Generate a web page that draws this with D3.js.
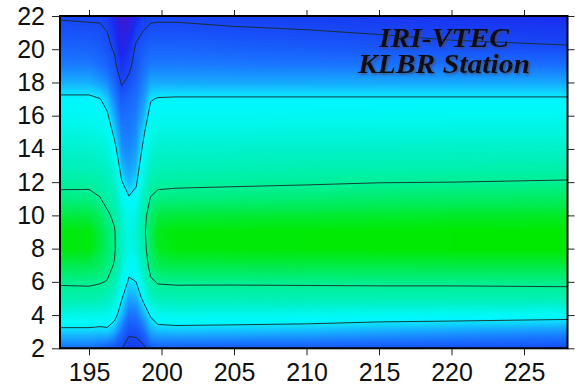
<!DOCTYPE html>
<html>
<head>
<meta charset="utf-8">
<script src="https://cdn.jsdelivr.net/npm/d3@7"></script>
<style>
  body { margin: 0; background: #fff; }
  svg { display: block; }
  .axis text { font-family: "Liberation Sans", Arial, sans-serif; font-size: 25px; fill: #111; }
  .axis line { stroke: #222; stroke-width: 1px; }
</style>
</head>
<body>
<svg id="chart" width="575" height="387"></svg>
<script>
// day-of-year columns (denser around the storm dip)
const days = [193, 195, 195.75, 196.25, 196.75, 197.25, 197.75, 198.25, 198.75, 199.25, 199.75, 201, 205, 210, 215, 220, 228];
// hour rows
const hours = [2, 3, 4, 5, 6, 7, 8, 9, 10, 11, 12, 13, 14, 15, 16, 17, 18, 19, 20, 21, 22];

// VTEC (TECU), one row per hour, one value per day column
const vtec = [
  [12.0, 12.0, 11.5, 11.0, 10.5, 10.1,  9.0,  9.1,  9.5, 11.0, 11.2, 11.2, 11.0, 10.9, 10.7, 10.5, 10.3], // 2
  [15.2, 15.2, 15.0, 15.2, 14.2, 12.0, 10.4, 10.5, 11.6, 14.0, 14.6, 14.7, 14.6, 14.4, 14.0, 13.7, 13.2], // 3
  [18.5, 18.5, 18.3, 18.3, 17.0, 14.5, 12.0, 12.2, 14.0, 16.3, 17.8, 18.2, 18.0, 17.8, 17.4, 17.3, 17.0], // 4
  [23.2, 23.3, 22.8, 22.0, 20.5, 16.2, 13.8, 14.2, 16.6, 21.0, 22.3, 22.6, 22.5, 22.5, 22.5, 22.5, 22.6], // 5
  [25.5, 25.6, 25.3, 24.8, 23.0, 18.0, 15.6, 16.0, 19.5, 24.2, 25.4, 25.6, 25.6, 25.7, 25.8, 25.8, 26.0], // 6
  [29.0, 29.0, 28.0, 26.5, 24.7, 20.0, 17.0, 17.8, 21.5, 26.8, 28.8, 29.3, 29.4, 29.4, 29.5, 29.5, 29.5], // 7
  [31.5, 31.5, 29.5, 27.5, 25.6, 21.0, 18.5, 19.5, 23.0, 28.0, 30.8, 31.6, 31.7, 31.8, 31.9, 32.0, 32.0], // 8
  [31.5, 31.5, 29.5, 27.5, 25.4, 21.0, 18.8, 20.0, 23.8, 28.2, 31.0, 31.6, 31.7, 31.8, 31.9, 32.0, 32.0], // 9
  [29.5, 29.5, 28.0, 25.7, 24.2, 20.0, 18.0, 19.2, 23.2, 27.3, 29.5, 29.8, 30.0, 30.1, 30.3, 30.4, 30.5], // 10
  [26.2, 26.3, 25.2, 23.8, 22.5, 18.5, 16.3, 17.2, 21.5, 25.3, 26.2, 26.4, 26.6, 27.0, 27.5, 27.7, 28.0], // 11
  [24.0, 24.0, 23.5, 22.5, 20.8, 16.2, 14.5, 15.5, 19.5, 23.0, 24.0, 24.2, 24.4, 24.6, 24.9, 25.0, 25.3], // 12
  [22.0, 22.0, 21.5, 21.0, 19.0, 14.5, 13.5, 14.3, 18.0, 21.2, 22.0, 22.2, 22.3, 22.5, 22.7, 22.8, 23.0], // 13
  [20.5, 20.5, 20.0, 19.5, 17.0, 13.3, 12.8, 13.6, 16.6, 19.6, 20.5, 20.6, 20.7, 20.8, 20.9, 21.0, 21.0], // 14
  [19.0, 19.0, 18.5, 18.0, 15.3, 12.5, 12.3, 13.0, 15.5, 18.3, 19.0, 19.1, 19.1, 19.2, 19.2, 19.3, 19.3], // 15
  [17.5, 17.5, 17.0, 16.4, 14.0, 11.8, 12.0, 12.5, 14.3, 17.0, 17.5, 17.6, 17.6, 17.7, 17.7, 17.8, 17.8], // 16
  [16.6, 16.6, 16.1, 15.0, 12.8, 10.9, 11.5, 12.0, 13.4, 15.8, 16.2, 16.3, 16.3, 16.3, 16.3, 16.3, 16.3], // 17
  [14.2, 14.2, 13.6, 13.0, 11.6,  9.8, 10.4, 11.3, 12.6, 14.0, 14.0, 14.0, 14.0, 14.0, 14.0, 14.0, 14.0], // 18
  [12.5, 12.5, 12.0, 11.5, 10.6,  8.5,  9.6, 10.7, 11.8, 12.5, 12.5, 12.5, 12.4, 12.3, 12.2, 12.1, 12.0], // 19
  [11.5, 11.4, 11.0, 10.5,  9.8,  7.0,  8.5, 10.4, 11.0, 11.5, 11.5, 11.5, 11.3, 11.1, 10.8, 10.6, 10.3], // 20
  [10.6, 10.5, 10.4, 10.05, 8.5,  5.6,  6.8,  9.4, 10.1, 10.5, 10.5, 10.5, 10.3, 10.15, 9.9, 9.5,  9.1], // 21
  [ 9.8,  9.7,  9.7,  9.2,  7.3,  4.4,  5.2,  7.5,  9.2,  9.6,  9.7,  9.7,  9.5,  9.3,  9.0,  8.5,  8.0]  // 22
];

const contourLevels = [10, 16, 25];
const xTicks = [195, 200, 205, 210, 215, 220, 225];
const yTicks = [2, 4, 6, 8, 10, 12, 14, 16, 18, 20, 22];
const titleLines = ["IRI-VTEC", "KLBR Station"];

const svg = d3.select('#chart');
const plot = { left: 60, right: 567.5, top: 16, bottom: 348.3 };

const x = d3.scaleLinear().domain([193, 228]).range([plot.left, plot.right]);
const y = d3.scaleLinear().domain([2, 22]).range([plot.bottom, plot.top]);

const color = d3.scaleLinear()
  .domain([3, 5, 8, 10, 12, 14, 15.5, 16.5, 18, 21, 25, 29, 32])
  .range(["#5a18c8", "#3a1ad8", "#1a2cf0", "#1848f5", "#1a70ff", "#18a8ff", "#10d8ff",
          "#00f8ff", "#00f8f0", "#00f2c8", "#00f098", "#00ec50", "#00ea00"])
  .clamp(true);

// grid index -> data coords (samples sit at index + 0.5 in d3.contours space)
const colToDay = d3.scaleLinear().domain(days.map((_, i) => i)).range(days).clamp(true);
const rowToHour = d3.scaleLinear().domain(hours.map((_, i) => i)).range(hours).clamp(true);
const proj = d3.geoTransform({
  point(px, py) { this.stream.point(x(colToDay(px - 0.5)), y(rowToHour(py - 0.5))); }
});
const path = d3.geoPath(proj);

const values = vtec.flat();

// filled field
const step = 0.2;
const bands = d3.contours().size([days.length, hours.length])
  .thresholds(d3.range(2, 33, step))(values);
svg.append('g')
  .selectAll('path')
  .data(bands)
  .join('path')
  .attr('d', path)
  .attr('fill', d => color(d.value + step / 2))
  .attr('stroke', d => color(d.value + step / 2))
  .attr('stroke-width', 0.3);

// contour lines
const lines = d3.contours().size([days.length, hours.length]).thresholds(contourLevels)(values);
svg.append('g')
  .selectAll('path')
  .data(lines)
  .join('path')
  .attr('d', path)
  .attr('fill', 'none')
  .attr('stroke', '#1a2a28')
  .attr('stroke-width', 0.9);

// title with a soft drop shadow
const defs = svg.append('defs');
defs.append('filter').attr('id', 'shadow')
  .attr('x', '-10%').attr('y', '-20%').attr('width', '120%').attr('height', '150%')
  .append('feDropShadow')
  .attr('dx', 1.5).attr('dy', 1.5).attr('stdDeviation', 0.8)
  .attr('flood-color', '#445').attr('flood-opacity', 0.8);

const titleWidths = [130, 172];
svg.append('g')
  .attr('filter', 'url(#shadow)')
  .selectAll('text')
  .data(titleLines)
  .join('text')
  .attr('x', 444)
  .attr('y', (d, i) => 47 + i * 26)
  .attr('text-anchor', 'middle')
  .attr('font-family', 'Liberation Serif, Times New Roman, serif')
  .attr('font-weight', 'bold')
  .attr('font-style', 'italic')
  .attr('font-size', 27)
  .attr('textLength', (d, i) => titleWidths[i])
  .attr('lengthAdjust', 'spacingAndGlyphs')
  .attr('fill', '#0c0c14')
  .text(d => d);

// axes
svg.append('g').attr('class', 'axis')
  .attr('transform', `translate(0,${plot.bottom})`)
  .call(d3.axisBottom(x).tickValues(xTicks).tickSize(7).tickPadding(8))
  .call(g => g.select('.domain').remove());
svg.append('g').attr('class', 'axis')
  .attr('transform', `translate(0,${plot.top})`)
  .call(d3.axisTop(x).tickValues(xTicks).tickSize(6).tickFormat(''))
  .call(g => g.select('.domain').remove());
svg.append('g').attr('class', 'axis')
  .attr('transform', `translate(${plot.left},0)`)
  .call(d3.axisLeft(y).tickValues(yTicks).tickSize(8).tickPadding(7))
  .call(g => g.select('.domain').remove());
svg.append('g').attr('class', 'axis')
  .attr('transform', `translate(${plot.right},0)`)
  .call(d3.axisRight(y).tickValues(yTicks).tickSize(7).tickFormat(''))
  .call(g => g.select('.domain').remove());

// frame
svg.append('rect')
  .attr('x', plot.left).attr('y', plot.top)
  .attr('width', plot.right - plot.left).attr('height', plot.bottom - plot.top)
  .attr('fill', 'none')
  .attr('stroke', '#000')
  .attr('stroke-width', 2);
</script>
</body>
</html>
